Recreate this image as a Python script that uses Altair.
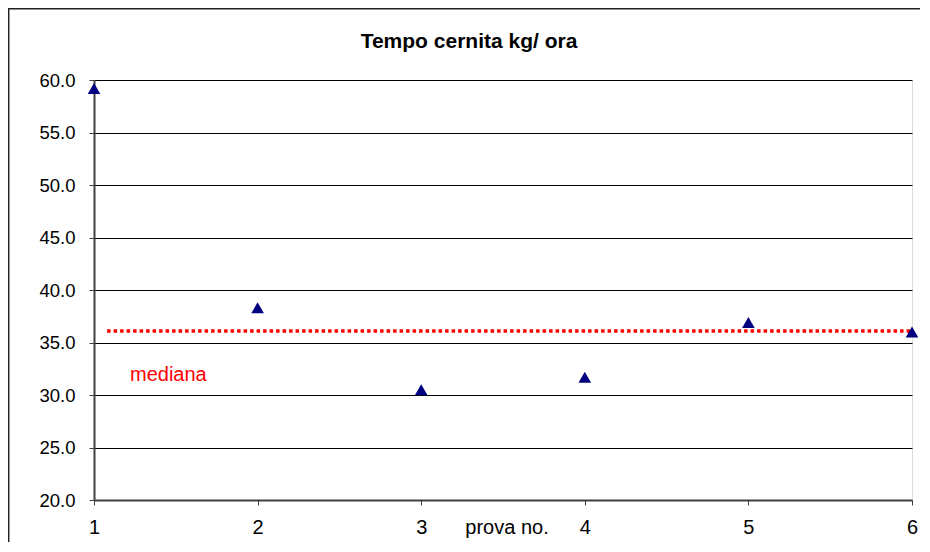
import altair as alt
import pandas as pd

prova = [1, 2, 3, 4, 5, 6]
tempo = [59.2, 38.3, 30.5, 31.7, 36.9, 36.0]
mediana_val = 36.1
mediana_start = 1.08
mediana_end = 6
y_ticks = [20, 25, 30, 35, 40, 45, 50, 55, 60]
x_ticks = [1, 2, 3, 4, 5, 6]
title_text = "Tempo cernita kg/ ora"
x_title = "prova no."
median_label = "mediana"

FONT = "Liberation Sans"

df = pd.DataFrame({"prova": prova, "tempo": tempo})
med = pd.DataFrame({"x": [mediana_start], "x2": [mediana_end], "y": [mediana_val]})

xscale = alt.Scale(domain=[1, 6], nice=False, zero=False)
yscale = alt.Scale(domain=[20, 60], nice=False, zero=False)

points = alt.Chart(df).mark_point(
    shape="triangle-up", filled=True, color="#000080", size=160, opacity=1
).encode(
    x=alt.X("prova:Q", scale=xscale,
            axis=alt.Axis(values=x_ticks, format="d", title=None, grid=False,
                          labelFontSize=20, labelFont=FONT, labelColor="#000000",
                          labelPadding=12, tickSize=5, tickColor="#404040",
                          domainColor="#404040", domainWidth=2, labelFlush=False)),
    y=alt.Y("tempo:Q", scale=yscale,
            axis=alt.Axis(values=y_ticks, format=".1f", title=None, grid=True,
                          gridColor="#000000", gridWidth=1,
                          labelFontSize=18.5, labelFont=FONT, labelColor="#000000",
                          labelPadding=14, tickSize=5, tickColor="#404040",
                          domainColor="#404040", domainWidth=2)),
)

median_line = alt.Chart(med).mark_rule(
    color="#FF0000", strokeWidth=3.5, strokeDash=[3.5, 3]
).encode(
    x=alt.X("x:Q", scale=xscale), x2="x2:Q", y=alt.Y("y:Q", scale=yscale)
)

median_text = alt.Chart(pd.DataFrame({"x": [1.22], "y": [31.9], "t": [median_label]})).mark_text(
    color="#FF0000", fontSize=20, font=FONT, align="left", baseline="middle"
).encode(x=alt.X("x:Q", scale=xscale), y=alt.Y("y:Q", scale=yscale), text="t:N")

x_title_mark = alt.Chart(pd.DataFrame({"t": [x_title]})).mark_text(
    color="#000000", fontSize=20, font=FONT, align="center", baseline="middle"
).encode(x=alt.value(413), y=alt.value(448), text="t:N")

title_mark = alt.Chart(pd.DataFrame({"t": [title_text]})).mark_text(
    color="#000000", fontSize=21, font=FONT, fontWeight="bold", align="center", baseline="middle"
).encode(x=alt.value(375), y=alt.value(-38), text="t:N")

border_left = alt.Chart(pd.DataFrame({"a": [0]})).mark_rule(color="#222222", strokeWidth=1.5).encode(
    x=alt.value(-85.3), y=alt.value(-72), y2=alt.value(500)
)
border_top = alt.Chart(pd.DataFrame({"a": [0]})).mark_rule(color="#222222", strokeWidth=1.5).encode(
    x=alt.value(-86), x2=alt.value(850), y=alt.value(-71.3)
)

chart = alt.layer(
    median_line, points, median_text, x_title_mark, title_mark, border_left, border_top
).properties(
    width=818, height=420,
    padding={"left": 86, "top": 72, "right": 8, "bottom": 42},
    autosize=alt.AutoSizeParams(type="none"),
).configure_view(
    stroke="#808080", strokeWidth=2
).configure(background="#FFFFFF")

chart.save("out.html", embed_options={"renderer": "svg", "actions": False})
